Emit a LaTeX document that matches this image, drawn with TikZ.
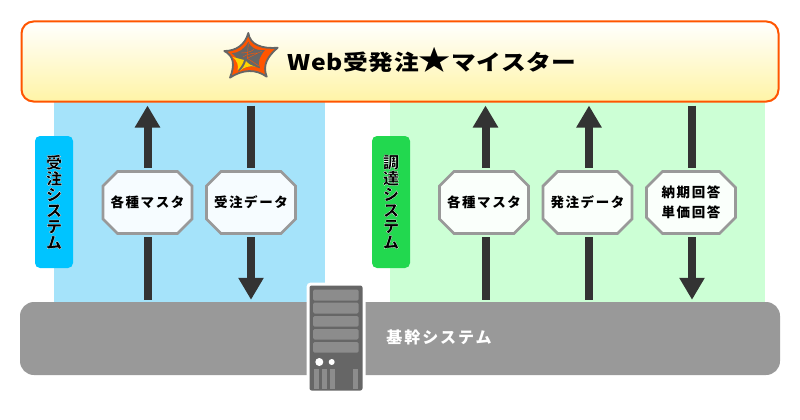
\documentclass[tikz,border=0pt]{standalone}
\usepackage{fontspec}
\usetikzlibrary{arrows.meta,shapes.misc}
\newfontfamily\cjk[LetterSpace=12]{Noto Sans CJK JP}
\newfontfamily\cjkheavy{Noto Sans CJK JP Black}
\newfontfamily\cjktitle[FakeStretch=1.15,LetterSpace=3]{Noto Sans CJK JP}
\newcommand{\tagchar}[1]{\special{pdf:code 2 Tr 1 1 1 RG 0.25 w}#1\special{pdf:code 0 Tr 0 0 0 RG}}
\definecolor{bluearea}{HTML}{A5E3FA}
\definecolor{greenarea}{HTML}{CCFFD5}
\definecolor{baseband}{HTML}{999999}
\definecolor{servergray}{HTML}{666666}
\definecolor{slotgray}{HTML}{8C8C8C}
\definecolor{shaftgray}{HTML}{333333}
\definecolor{bannerline}{HTML}{FF5500}
\definecolor{bannerfoot}{HTML}{FFF4A6}
\definecolor{bluetag}{HTML}{00C4FF}
\definecolor{greentag}{HTML}{22D84F}
\definecolor{logoyellow}{HTML}{FFD400}
\begin{document}
\begin{tikzpicture}
[x=1pt,y=-1pt,
  every node/.style={font=\cjk\bfseries,inner sep=0pt,align=center},
  databox/.style={shape=chamfered rectangle,chamfered rectangle xsep=8pt,chamfered rectangle ysep=8pt,
    draw=baseband,line width=2.7pt,minimum width=89pt,minimum height=62pt,font=\cjk\bfseries\fontsize{13.5}{20}\selectfont},
  tagbox/.style={rounded corners=5pt,minimum width=38pt,minimum height=132pt,font=\cjkheavy\fontsize{16}{16}\selectfont},
  flow/.style={draw=shaftgray,line width=8pt,-{Triangle[width=24pt,length=22pt]}},
  shaft/.style={draw=shaftgray,line width=8pt},
  slot/.style={fill=slotgray,rounded corners=1.5pt}]
\useasboundingbox (0,0) rectangle (800,420);
\fill[white] (0,0) rectangle (800,420);
\fill[bluearea] (54,90) rectangle (325,310);
\fill[greenarea] (390,90) rectangle (765,310);
\node[draw=bannerline,line width=2pt,rounded corners=12pt,top color=white,bottom color=bannerfoot,
  minimum width=757pt,minimum height=80pt] (banner) at (400,61.5) {};
\node[fill=baseband,rounded corners=14pt,minimum width=760pt,minimum height=73pt] (base) at (400,338.5) {};
\node[font=\cjktitle\bfseries\fontsize{21.5}{21}\selectfont] (title) at (432,60) {Web受発注{\fontsize{28}{21}\selectfont★}マイスター};
\node[text=white,font=\cjk\bfseries\fontsize{16}{16}\selectfont] (baselabel) at (439,337) {基幹システム};
\node[tagbox,fill=bluetag] (jutag) at (54,202) {\tagchar{受}\\\tagchar{注}\\\tagchar{シ}\\\tagchar{ス}\\\tagchar{テ}\\\tagchar{ム}};
\node[tagbox,fill=greentag] (chotag) at (391,202) {\tagchar{調}\\\tagchar{達}\\\tagchar{シ}\\\tagchar{ス}\\\tagchar{テ}\\\tagchar{ム}};
\node[databox,fill=bluearea!10!white] (jumaster) at (147.5,202.5) {各種マスタ};
\node[databox,fill=bluearea!10!white] (judata) at (251,202.5) {受注データ};
\node[databox,fill=greenarea!10!white] (chomaster) at (484,202.5) {各種マスタ};
\node[databox,fill=greenarea!10!white] (chodata) at (587.5,202.5) {発注データ};
\node[databox,fill=greenarea!10!white] (answer) at (691,202.5) {納期回答\\単価回答};
\draw[shaft] ([yshift=2pt]jumaster.south |- base.north) -- ([yshift=-2.5pt]jumaster.south);
\draw[flow] ([yshift=2.5pt]jumaster.north) -- ([yshift=-3pt]jumaster.north |- banner.south);
\draw[shaft] ([yshift=-3pt]judata.north |- banner.south) -- ([yshift=2.5pt]judata.north);
\draw[flow] ([yshift=-2.5pt]judata.south) -- ([yshift=2pt]judata.south |- base.north);
\draw[shaft] ([xshift=1.5pt,yshift=2pt]chomaster.south |- base.north) -- ([xshift=1.5pt,yshift=-2.5pt]chomaster.south);
\draw[flow] ([xshift=1.5pt,yshift=2.5pt]chomaster.north) -- ([xshift=1.5pt,yshift=-3pt]chomaster.north |- banner.south);
\draw[shaft] ([xshift=1.5pt,yshift=2pt]chodata.south |- base.north) -- ([xshift=1.5pt,yshift=-2.5pt]chodata.south);
\draw[flow] ([xshift=1.5pt,yshift=2.5pt]chodata.north) -- ([xshift=1.5pt,yshift=-3pt]chodata.north |- banner.south);
\draw[shaft] ([xshift=1pt,yshift=-3pt]answer.north |- banner.south) -- ([xshift=1pt,yshift=2.5pt]answer.north);
\draw[flow] ([xshift=1pt,yshift=-2.5pt]answer.south) -- ([xshift=1pt,yshift=2pt]answer.south |- base.north);
\node[fill=servergray,draw=white,line width=3pt,rounded corners=3pt,minimum width=56pt,minimum height=108pt] (server) at (336,338) {};
\fill[slot] (313,289.5) rectangle (358.7,300.7);
\fill[slot] (313,302.7) rectangle (358.7,313.5);
\fill[slot] (313,316) rectangle (358.7,326.7);
\fill[slot] (313,329) rectangle (358.7,339.5);
\fill[slot] (313,342) rectangle (358.7,352.7);
\fill[white] (319.3,362) circle (4pt);
\fill[white] (331.7,362) circle (3pt);
\fill[slotgray] (314.3,369.3) rectangle (319,388.7);
\fill[slotgray] (322.3,369.3) rectangle (327,388.7);
\fill[slotgray] (330,369.3) rectangle (335,388.7);
\fill[slotgray] (352.7,369.3) rectangle (357.7,388.7);
\draw[fill=bannerline,draw=servergray,line width=1.8pt,line join=round]
  (248.3,33) .. controls (250,45) and (262,49) .. (277.7,47.7)
  .. controls (268,56) and (262,65) .. (266.7,76.7)
  .. controls (256,69) and (243,69) .. (230,77.7)
  .. controls (235,65) and (234,56) .. (224.3,51)
  .. controls (236,51) and (245,45) .. (248.3,33) -- cycle;
\fill[servergray,line join=round]
  (248.3,41.7) .. controls (250,47) and (256,51) .. (265,50)
  .. controls (260,56) and (257,62) .. (260,68.3)
  .. controls (254,65) and (245,66) .. (238.3,71.7)
  .. controls (240,65) and (239,58) .. (231.7,53.3)
  .. controls (238,53) and (245,49) .. (248.3,41.7) -- cycle;
\fill[logoyellow] (232.5,57) -- (244,60) .. controls (243,64) and (240,68) .. (237.5,70.5) .. controls (239,66) and (237,60) .. (232.5,57) -- cycle;
\fill[logoyellow] (246,61) .. controls (248,64) and (252,66) .. (256,66.5) .. controls (250,65.5) and (244,67) .. (239.5,71) .. controls (243,68) and (245,65) .. (246,61) -- cycle;
\draw[bannerline,line width=.4pt] (247.3,58.3) -- (248.3,43) (247.3,58.3) -- (262,51) (247.3,58.3) -- (259,66)
  (241,53) .. controls (245,53) and (252,52) .. (254,49) (243,57) .. controls (247,54) and (253,53) .. (258,53);
\end{tikzpicture}
\end{document}
